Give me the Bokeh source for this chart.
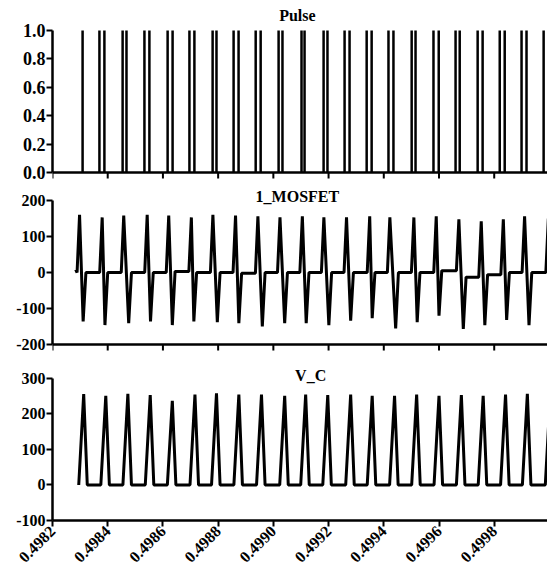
import math
from bokeh.plotting import figure
from bokeh.layouts import column
from bokeh.models import Range1d, FixedTicker, PrintfTickFormatter, Label, Span
from bokeh.embed import file_html
from bokeh.resources import INLINE

# ---------------- data ----------------
x_ticks = [0.4982, 0.4984, 0.4986, 0.4988, 0.4990, 0.4992, 0.4994, 0.4996, 0.4998]
pulse_y_ticks = [0.0, 0.2, 0.4, 0.6, 0.8, 1.0]
mos_y_ticks = [-200, -100, 0, 100, 200]
vc_y_ticks = [-100, 0, 100, 200, 300]

pulse_t = [0.498309, 0.498370, 0.498388, 0.498454, 0.498468, 0.498533, 0.498551,
           0.498617, 0.498635, 0.498696, 0.498714, 0.498780, 0.498794, 0.498856,
           0.498874, 0.498936, 0.498954, 0.499019, 0.499033, 0.499102, 0.499113,
           0.499182, 0.499196, 0.499258, 0.499276, 0.499338, 0.499356, 0.499417,
           0.499435, 0.499501, 0.499515, 0.499580, 0.499599, 0.499660, 0.499675,
           0.499740, 0.499758, 0.499820, 0.499838, 0.499899, 0.499917, 0.499979]
pulse_v = [1.0] * len(pulse_t)

mos_start_t = 0.498284
mos_start_v = 8
mos_peak_t = [0.498298, 0.498380, 0.498458, 0.498543, 0.498621, 0.498703, 0.498781,
              0.498863, 0.498944, 0.499024, 0.499105, 0.499183, 0.499265, 0.499349,
              0.499422, 0.499509, 0.499590, 0.499672, 0.499753, 0.499833, 0.499910,
              0.499996]
mos_peak_v = [160, 153, 158, 160, 158, 153, 160, 158, 156, 153, 156, 153, 153, 156,
              153, 153, 156, 148, 142, 148, 156, 150]
mos_trough_t = [0.498311, 0.498390, 0.498476, 0.498555, 0.498634, 0.498712, 0.498797,
                0.498875, 0.498960, 0.499041, 0.499119, 0.499201, 0.499280, 0.499358,
                0.499443, 0.499521, 0.499600, 0.499688, 0.499766, 0.499845, 0.499926]
mos_trough_v = [-136, -146, -141, -136, -146, -136, -138, -141, -150, -141, -141,
                -146, -134, -127, -155, -138, -120, -157, -146, -132, -146]
mos_flat_v = [0, 0, 0, 0, 3, 0, 0, -2, 0, 0, 0, 0, 0, 0, 0, 0, 5, -13, -6, 0, 0]

vc_peak_t = [0.498313, 0.498393, 0.498473, 0.498554, 0.498634, 0.498716, 0.498794,
             0.498875, 0.498957, 0.499041, 0.499117, 0.499197, 0.499280, 0.499358,
             0.499439, 0.499519, 0.499600, 0.499681, 0.499760, 0.499841, 0.499920,
             0.500003]
vc_peak_v = [256, 251, 257, 253, 237, 255, 258, 255, 255, 251, 255, 253, 255, 251,
             251, 255, 251, 253, 251, 255, 257, 255]

# ---------------- waveform assembly ----------------
MOS_RISE = 9e-6
MOS_RECOVER = 1.0e-5
mx, my = [mos_start_t], [mos_start_v]
flat = 0
for i in range(len(mos_peak_t)):
    mx += [mos_peak_t[i] - MOS_RISE, mos_peak_t[i]]
    my += [flat, mos_peak_v[i]]
    if i < len(mos_trough_t):
        mx += [mos_trough_t[i], mos_trough_t[i] + MOS_RECOVER]
        my += [mos_trough_v[i], mos_flat_v[i]]
        flat = mos_flat_v[i]

VC_RISE = 1.8e-5
VC_FALL = 1.3e-5
vx, vy = [], []
for t, v in zip(vc_peak_t, vc_peak_v):
    vx += [t - VC_RISE, t, t + VC_FALL]
    vy += [0, v, 0]

# ---------------- figures ----------------
FONT = "'Liberation Serif', 'Times New Roman', serif"
W = 547
X0, X1 = 0.4982, 0.499993
x_range = Range1d(X0, X1)
TITLE_X = 0.499087


def make_fig(height, yr, bounds, top, bottom, has_x_axis):
    p = figure(width=W, height=height, x_range=x_range, y_range=yr,
               output_backend="svg", toolbar_location=None,
               x_axis_location="below" if has_x_axis else None,
               min_border_left=52, min_border_right=0,
               min_border_top=top, min_border_bottom=bottom)
    p.grid.visible = False
    p.outline_line_color = None
    p.background_fill_color = "white"
    p.border_fill_color = "white"
    for ax in p.axis:
        ax.axis_line_width = 2.5
        ax.axis_line_color = "black"
        ax.major_tick_line_width = 2
        ax.major_tick_line_color = "black"
        ax.major_tick_out = 6
        ax.major_tick_in = 0
        ax.minor_tick_out = 0
        ax.minor_tick_in = 0
        ax.major_label_text_font = FONT
        ax.major_label_text_font_style = "bold"
        ax.major_label_text_color = "black"
    p.yaxis.bounds = bounds
    p.yaxis.major_label_standoff = 1
    return p


def add_title(p, text, x, y):
    p.add_layout(Label(x=x, y=y, text=text, text_align="center",
                       text_baseline="middle", text_font=FONT,
                       text_font_style="bold", text_font_size="16px",
                       text_color="black"))


def add_bottom_line(p, y0, tick_len):
    # bottom axis line and its tick marks (no labels) for the upper panels
    p.add_layout(Span(location=y0, dimension="width", line_color="black",
                      line_width=2.5))
    p.segment(x0=x_ticks, y0=[y0] * len(x_ticks), x1=x_ticks,
              y1=[y0 - tick_len] * len(x_ticks), line_color="black", line_width=2)


# Pulse  (figure 0..186 px; 1.0 at 30 px, 0.0 at 172 px)
p1 = make_fig(186, Range1d(-0.0986, 1.2113), (0, 1), 0, 0, False)
p1.yaxis.ticker = FixedTicker(ticks=pulse_y_ticks)
p1.yaxis.formatter = PrintfTickFormatter(format="%.1f")
p1.yaxis.major_label_text_font_size = "18px"
add_bottom_line(p1, 0, 0.042)
p1.segment(x0=pulse_t, y0=[0] * len(pulse_t), x1=pulse_t, y1=pulse_v,
           line_color="black", line_width=2.5)
add_title(p1, "Pulse", TITLE_X, 1.106)

# 1_MOSFET  (figure 186..360 px; 200 at 200 px, -200 at 344 px)
p2 = make_fig(174, Range1d(-244.4, 238.9), (-200, 200), 0, 0, False)
p2.yaxis.ticker = FixedTicker(ticks=mos_y_ticks)
p2.yaxis.formatter = PrintfTickFormatter(format="%d")
p2.yaxis.major_label_text_font_size = "16px"
add_bottom_line(p2, -200, 16.7)
p2.line(mx, my, line_color="black", line_width=3)
add_title(p2, "1_MOSFET", TITLE_X, 212)

# V_C  (figure 360..575 px; 300 at 378 px, -100 at 520 px)
p3 = make_fig(215, Range1d(-100, 350.7), (-100, 300), 0, 55, True)
p3.yaxis.ticker = FixedTicker(ticks=vc_y_ticks)
p3.yaxis.formatter = PrintfTickFormatter(format="%d")
p3.yaxis.major_label_text_font_size = "16px"
p3.xaxis.ticker = FixedTicker(ticks=x_ticks)
p3.xaxis.formatter = PrintfTickFormatter(format="%.4f")
p3.xaxis.major_label_text_font_size = "16px"
p3.xaxis.major_label_standoff = 2
p3.xaxis.major_label_orientation = math.pi / 4
p3.line(vx, vy, line_color="black", line_width=3)
add_title(p3, "V_C", 0.499135, 308.5)

layout = column(p1, p2, p3, spacing=0)
open("out.html", "w").write(file_html(layout, INLINE))
